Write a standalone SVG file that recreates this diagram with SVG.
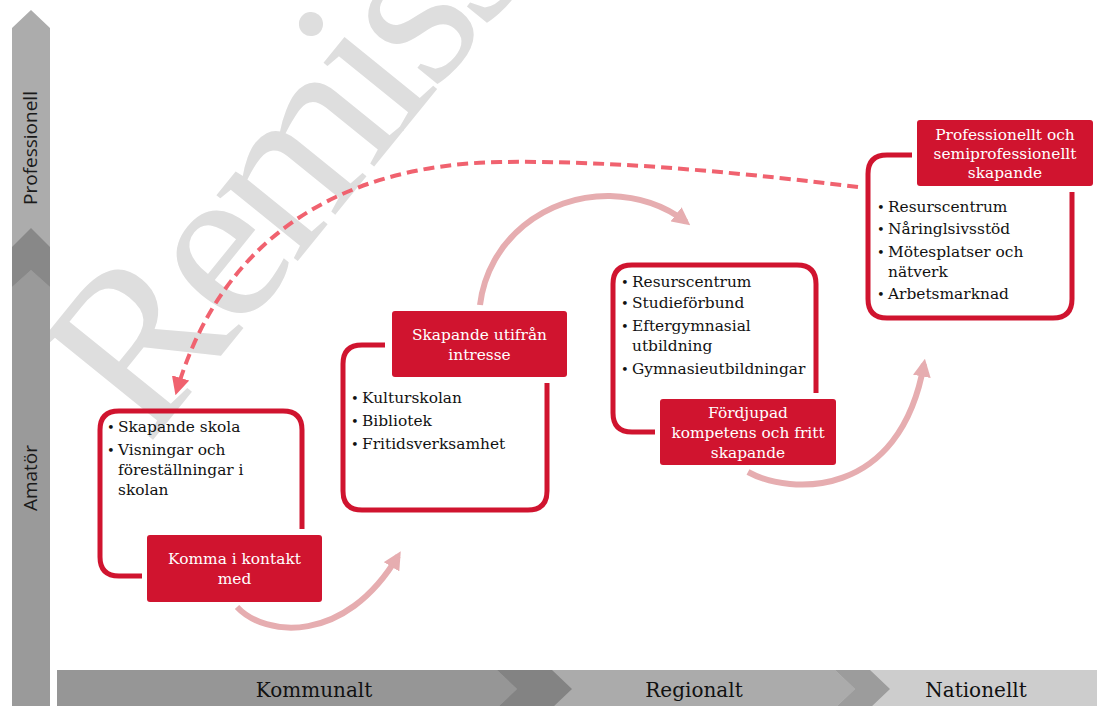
<svg xmlns="http://www.w3.org/2000/svg" width="1097" height="706" viewBox="0 0 1097 706">
<style>
.outline{fill:none;stroke:#d0142f;stroke-width:5;stroke-linecap:butt}
.lbl{fill:#d0142f}
.lt{font-family:"DejaVu Serif","Liberation Serif",serif;font-size:15.4px;fill:#ffffff;text-anchor:middle}
.bt{font-family:"DejaVu Serif","Liberation Serif",serif;font-size:15.4px;fill:#111111}
.bu{font-family:"DejaVu Serif","Liberation Serif",serif;font-size:13px;fill:#111111}
.ax{font-family:"Open Sans","Noto Sans",sans-serif;font-size:19px;fill:#1a1a1a;text-anchor:middle}
.bx{font-family:"DejaVu Serif","Liberation Serif",serif;font-size:20px;fill:#111111;text-anchor:middle}
.arc{fill:none;stroke:#e6adb0;stroke-width:6}
.dash{fill:none;stroke:#f0626f;stroke-width:4;stroke-dasharray:11 6}
</style>
<defs>
<marker id="ah" viewBox="0 0 10 10" refX="7" refY="5" markerWidth="18" markerHeight="18" markerUnits="userSpaceOnUse" orient="auto"><path d="M0,0 L10,5 L0,10 z" fill="#e6adb0"/></marker>
<marker id="ahd" viewBox="0 0 10 10" refX="7" refY="5" markerWidth="18" markerHeight="18" markerUnits="userSpaceOnUse" orient="auto"><path d="M0,0 L10,5 L0,10 z" fill="#f0626f"/></marker>
</defs>
<rect width="1097" height="706" fill="#ffffff"/>
<g id="watermark">
<text transform="translate(148,446) rotate(-51)" font-family="Liberation Serif, serif" font-size="228" letter-spacing="-10" fill="#dedede">Remiss</text>
</g>
<g id="axis-vertical">
<polygon points="12,247 31,228 50,247 50,706 12,706" fill="#9a9a9a"/>
<polygon points="12,28 31,10 50,28 50,287 31,270 12,287" fill="#acacac"/>
<polygon points="12,247 31,228 50,247 50,287 31,270 12,287" fill="#888888"/>
<text class="ax" transform="translate(37,148) rotate(-90)">Professionell</text>
<text class="ax" transform="translate(37,478) rotate(-90)">Amatör</text>
</g>
<g id="axis-horizontal">
<polygon points="57,670 552,670 572,689 552,708 57,708" fill="#969696"/>
<polygon points="497,670 870,670 890,689 870,708 497,708 517,689" fill="#ababab"/>
<polygon points="497,670 552,670 572,689 552,708 497,708 517,689" fill="#838383"/>
<polygon points="835,670 1097,670 1097,708 835,708 855,689" fill="#cdcdcd"/>
<polygon points="835,670 870,670 890,689 870,708 835,708 855,689" fill="#9c9c9c"/>
<text class="bx" x="314" y="697">Kommunalt</text>
<text class="bx" x="694" y="697">Regionalt</text>
<text class="bx" x="976" y="697">Nationellt</text>
</g>
<g id="connectors">
<path class="arc" d="M237,607 C265,637 345,645 398,556" marker-end="url(#ah)"/>
<path class="arc" d="M480,305 C488,240 545,195 610,196 C645,197 668,208 686,222" marker-end="url(#ah)"/>
<path class="arc" d="M748,472 C790,495 900,500 924,364" marker-end="url(#ah)"/>
<path class="dash" d="M858,187 C760,175 620,160 500,162 C340,165 222,238 177,390" marker-end="url(#ahd)"/>
</g>
<g id="node-komma">
<path class="outline" d="M302,529 V430 Q302,411 283,411 H119 Q100,411 100,430 V557 Q100,576 119,576 H142"/>
<text class="bu" x="107" y="432">•</text><text class="bt" x="118" y="432">Skapande skola</text>
<text class="bu" x="107" y="455">•</text><text class="bt" x="118" y="455">Visningar och</text>
<text class="bt" x="118" y="475">föreställningar i</text>
<text class="bt" x="118" y="495">skolan</text>
<rect class="lbl" x="147" y="535" width="175" height="67" rx="3"/>
<text class="lt" x="234.5" y="564">Komma i kontakt</text>
<text class="lt" x="234.5" y="584">med</text>
</g>
<g id="node-skapande">
<path class="outline" d="M385,345 H362 Q343,345 343,364 V491 Q343,510 362,510 H528 Q547,510 547,491 V383"/>
<rect class="lbl" x="392" y="311" width="175" height="66" rx="3"/>
<text class="lt" x="479.5" y="340">Skapande utifrån</text>
<text class="lt" x="479.5" y="360">intresse</text>
<text class="bu" x="351" y="403">•</text><text class="bt" x="362" y="403">Kulturskolan</text>
<text class="bu" x="351" y="426">•</text><text class="bt" x="362" y="426">Bibliotek</text>
<text class="bu" x="351" y="449">•</text><text class="bt" x="362" y="449">Fritidsverksamhet</text>
</g>
<g id="node-fordjupad">
<path class="outline" d="M816,393 V284 Q816,265 797,265 H632 Q613,265 613,284 V413 Q613,432 632,432 H655"/>
<text class="bu" x="621" y="287">•</text><text class="bt" x="632" y="287">Resurscentrum</text>
<text class="bu" x="621" y="308">•</text><text class="bt" x="632" y="308">Studieförbund</text>
<text class="bu" x="621" y="331">•</text><text class="bt" x="632" y="331">Eftergymnasial</text>
<text class="bt" x="632" y="351">utbildning</text>
<text class="bu" x="621" y="374">•</text><text class="bt" x="632" y="374">Gymnasieutbildningar</text>
<rect class="lbl" x="660" y="399" width="176" height="66" rx="3"/>
<text class="lt" x="748" y="418">Fördjupad</text>
<text class="lt" x="748" y="438">kompetens och fritt</text>
<text class="lt" x="748" y="458">skapande</text>
</g>
<g id="node-professionellt">
<path class="outline" d="M912,155 H887 Q868,155 868,174 V299 Q868,318 887,318 H1053 Q1072,318 1072,299 V192"/>
<rect class="lbl" x="917" y="120" width="176" height="66" rx="3"/>
<text class="lt" x="1005" y="140">Professionellt och</text>
<text class="lt" x="1005" y="159">semiprofessionellt</text>
<text class="lt" x="1005" y="178">skapande</text>
<text class="bu" x="877" y="212">•</text><text class="bt" x="888" y="212">Resurscentrum</text>
<text class="bu" x="877" y="234">•</text><text class="bt" x="888" y="234">Nåringlsivsstöd</text>
<text class="bu" x="877" y="257">•</text><text class="bt" x="888" y="257">Mötesplatser och</text>
<text class="bt" x="888" y="277">nätverk</text>
<text class="bu" x="877" y="299">•</text><text class="bt" x="888" y="299">Arbetsmarknad</text>
</g>
</svg>
